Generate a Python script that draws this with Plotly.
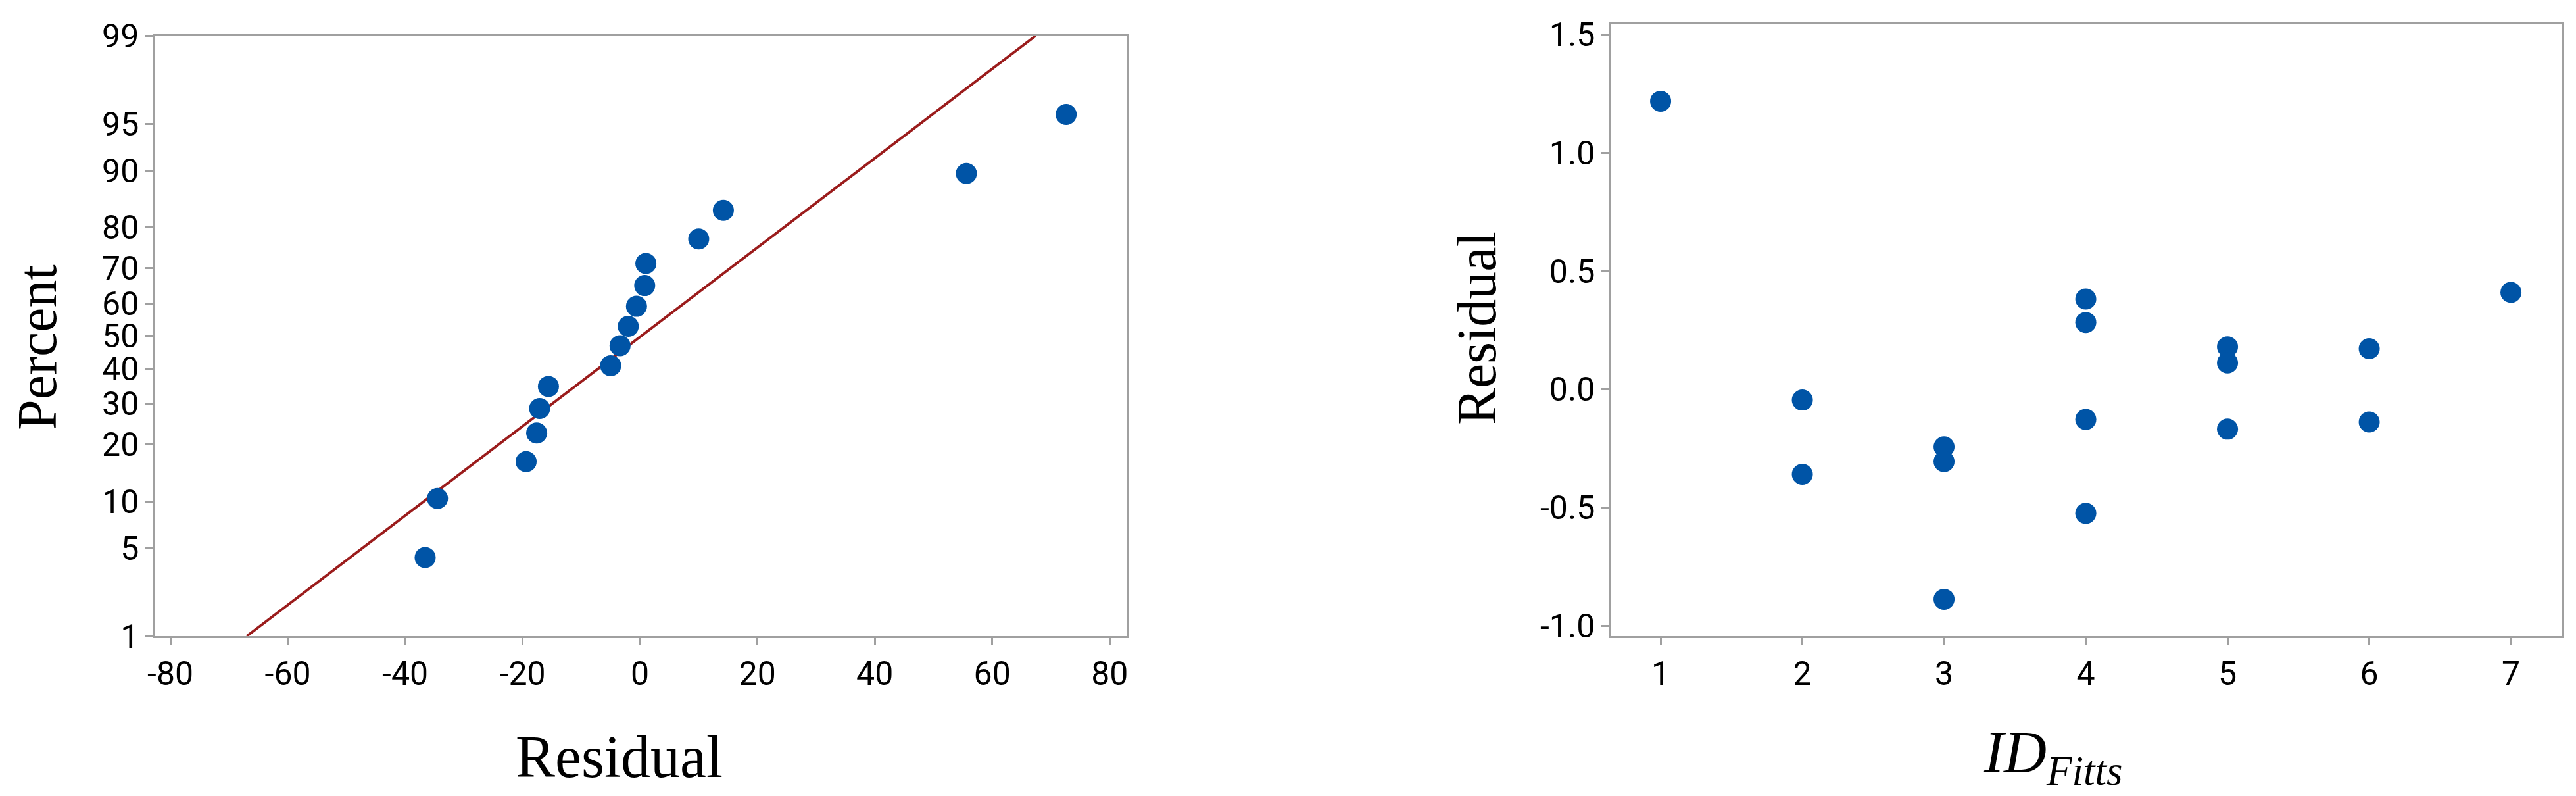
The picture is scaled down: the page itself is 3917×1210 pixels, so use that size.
from statistics import NormalDist
import plotly.graph_objects as go

# normal probability plot of residuals
resid_sorted = [-36.6, -34.5, -19.4, -17.6, -17.1, -15.6, -5.0, -3.4,
                -2.0, -0.6, 0.8, 1.0, 10.0, 14.2, 55.6, 72.6]
resid_pct = [4.3, 10.4, 16.5, 22.6, 28.7, 34.8, 40.9, 47.0,
             53.0, 59.1, 65.2, 71.3, 77.4, 83.5, 89.6, 95.7]
fit_x = [-67.0, 67.4]
fit_pct = [1, 99]
pct_ticks = [1, 5, 10, 20, 30, 40, 50, 60, 70, 80, 90, 95, 99]
resid_ticks = [-80, -60, -40, -20, 0, 20, 40, 60, 80]

# residuals versus ID_Fitts
id_fitts = [1, 2, 2, 3, 3, 3, 4, 4, 4, 4, 5, 5, 5, 6, 6, 7]
id_resid = [1.218, -0.045, -0.359, -0.243, -0.305, -0.887, 0.382, 0.283,
            -0.127, -0.524, 0.180, 0.112, -0.168, 0.172, -0.138, 0.410]
id_ticks = [1, 2, 3, 4, 5, 6, 7]
res_ticks = [-1.0, -0.5, 0.0, 0.5, 1.0, 1.5]

W, H = 3917, 1210
OFF = 8  # page body margin

def xp(px):
    return (px - OFF) / W

def yp(px):
    return 1 - (px - OFF) / H

nd = NormalDist()
def to_z(pct_list):
    return [nd.inv_cdf(p / 100.0) for p in pct_list]

BLUE = '#0054A6'
RED = '#9B1C1C'
GRAY = '#A0A0A0'
TICK_FONT = dict(family='Roboto', size=50, color='black')
TITLE_FONT = 'Liberation Serif'

fig = go.Figure()
fig.add_trace(go.Scatter(x=fit_x, y=to_z(fit_pct), mode='lines',
                         line=dict(color=RED, width=4),
                         xaxis='x', yaxis='y', showlegend=False))
fig.add_trace(go.Scatter(x=resid_sorted, y=to_z(resid_pct), mode='markers',
                         marker=dict(color=BLUE, size=32),
                         xaxis='x', yaxis='y', showlegend=False))
fig.add_trace(go.Scatter(x=id_fitts, y=id_resid, mode='markers',
                         marker=dict(color=BLUE, size=32),
                         xaxis='x2', yaxis='y2', showlegend=False))

axis_style = dict(showline=True, mirror=True, linecolor=GRAY, linewidth=2.5,
                  ticks='outside', ticklen=11, tickwidth=2.5, tickcolor=GRAY,
                  showgrid=False, zeroline=False, tickfont=TICK_FONT)

fig.update_layout(
    width=W, height=H,
    margin=dict(l=0, r=0, t=0, b=0, autoexpand=False),
    paper_bgcolor='white', plot_bgcolor='white',
    xaxis=dict(domain=[xp(235), xp(1714)], range=[-82.7, 83.0],
               tickvals=resid_ticks, ticktext=[str(v) for v in resid_ticks],
               anchor='y', **axis_style),
    yaxis=dict(domain=[yp(967), yp(54.5)], range=to_z([1, 99]),
               tickvals=to_z(pct_ticks), ticktext=[str(p) for p in pct_ticks],
               anchor='x', **axis_style),
    xaxis2=dict(domain=[xp(2449), xp(3895)], range=[0.647, 7.357],
                tickvals=id_ticks, anchor='y2', **axis_style),
    yaxis2=dict(domain=[yp(967), yp(37)], range=[-1.043, 1.543],
                tickvals=res_ticks, ticktext=['%.1f' % v for v in res_ticks],
                anchor='x2', **axis_style),
)

# axis titles
title_pos = dict(xref='paper', yref='paper', showarrow=False,
                 xanchor='center', yanchor='middle')
fig.add_annotation(text='Residual', x=xp(941), y=yp(1150), **title_pos,
                   font=dict(family=TITLE_FONT, size=90, color='black'))
fig.add_annotation(text='Percent', x=xp(56), y=yp(528), textangle=-90,
                   **title_pos, font=dict(family=TITLE_FONT, size=84, color='black'))
fig.add_annotation(text='<i>ID</i><sub><i>Fitts</i></sub>', x=xp(3121),
                   y=yp(1150), **title_pos,
                   font=dict(family=TITLE_FONT, size=90, color='black'))
fig.add_annotation(text='Residual', x=xp(2246), y=yp(499), textangle=-90,
                   **title_pos, font=dict(family=TITLE_FONT, size=84, color='black'))

fig.write_html('out.html')
